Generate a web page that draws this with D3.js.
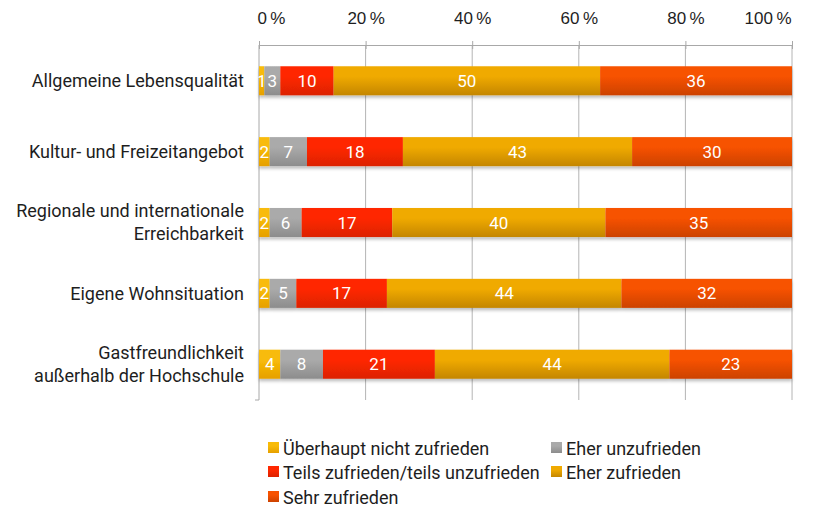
<!DOCTYPE html>
<html>
<head>
<meta charset="utf-8">
<script src="https://cdn.jsdelivr.net/npm/d3@7"></script>
<style>
  html, body { margin: 0; padding: 0; background: #fff; }
  svg { display: block; font-family: Roboto, "Noto Sans", sans-serif; }
</style>
</head>
<body>
<svg id="chart" width="815" height="510"></svg>
<script>
// Satisfaction ratings per aspect (percent of respondents)
const categories = [
  ["Allgemeine Lebensqualität"],
  ["Kultur- und Freizeitangebot"],
  ["Regionale und internationale", "Erreichbarkeit"],
  ["Eigene Wohnsituation"],
  ["Gastfreundlichkeit", "außerhalb der Hochschule"]
];
const seriesNames = [
  "Überhaupt nicht zufrieden",
  "Eher unzufrieden",
  "Teils zufrieden/teils unzufrieden",
  "Eher zufrieden",
  "Sehr zufrieden"
];
const ueberhauptNicht = [1, 2, 2, 2, 4];
const eherUnzufrieden = [3, 7, 6, 5, 8];
const teilsTeils      = [10, 18, 17, 17, 21];
const eherZufrieden   = [50, 43, 40, 44, 44];
const sehrZufrieden   = [36, 30, 35, 32, 23];
const tickValues = [0, 20, 40, 60, 80, 100];

const seriesValues = [ueberhauptNicht, eherUnzufrieden, teilsTeils, eherZufrieden, sehrZufrieden];
// top / bottom colours of each series' vertical gradient
const colors = [
  ["#f8bb08", "#e6a000"],
  ["#aaaaaa", "#8c8c8c"],
  ["#ff2800", "#dc2200"],
  ["#f0aa00", "#c48600"],
  ["#f75200", "#cc4200"]
];

const svg = d3.select("#chart");
const margin = { left: 259, right: 23, top: 45, bottom: 110 };
const width = 815, height = 510;
const textColor = "#1e1e1e";

const x = d3.scaleLinear().domain([0, 100]).range([margin.left, width - margin.right]);
const y = d3.scaleBand().domain(d3.range(categories.length))
  .range([margin.top, height - margin.bottom]).paddingInner(0.59).paddingOuter(0.3);

const defs = svg.append("defs");
colors.forEach((c, i) => {
  const g = defs.append("linearGradient").attr("id", "grad" + i)
    .attr("x1", 0).attr("y1", 0).attr("x2", 0).attr("y2", 1);
  g.append("stop").attr("offset", "0%").attr("stop-color", c[0]);
  g.append("stop").attr("offset", "35%").attr("stop-color", c[0]);
  g.append("stop").attr("offset", "100%").attr("stop-color", c[1]);
});
const shadow = defs.append("filter").attr("id", "shadow")
  .attr("x", "-5%").attr("y", "-20%").attr("width", "110%").attr("height", "160%");
shadow.append("feDropShadow").attr("dx", 0).attr("dy", 2.5).attr("stdDeviation", 1.8)
  .attr("flood-color", "#000").attr("flood-opacity", 0.25);

// vertical grid lines
const plotBottom = height - margin.bottom;
svg.append("g").selectAll("line").data(tickValues.slice(1)).join("line")
  .attr("x1", d => x(d)).attr("x2", d => x(d))
  .attr("y1", margin.top).attr("y2", plotBottom)
  .attr("stroke", "#b4b4b4").attr("stroke-width", 1);

// top axis; the outermost labels are kept inside the plot width
const axis = d3.axisTop(x).tickValues(tickValues).tickFormat(d => d + "\u2009%")
  .tickSizeInner(4).tickSizeOuter(0);
const axisG = svg.append("g").attr("transform", `translate(0,${margin.top})`).call(axis);
axisG.select(".domain").attr("stroke", "#a8a8a8");
axisG.selectAll(".tick line").attr("stroke", "#a8a8a8").attr("y2", 4).attr("y1", -4);
axisG.selectAll(".tick text").attr("y", -27).attr("font-size", 17)
  .attr("fill", textColor).attr("dy", "0.35em")
  .attr("text-anchor", d => d === 0 ? "start" : d === 100 ? "end" : "middle")
  .attr("x", d => d === 0 ? -2 : d === 100 ? -1 : 0);

// left axis line with bottom tick
svg.append("line").attr("x1", x(0)).attr("x2", x(0))
  .attr("y1", margin.top).attr("y2", plotBottom).attr("stroke", "#a8a8a8");
svg.append("line").attr("x1", x(0) - 4).attr("x2", x(0))
  .attr("y1", plotBottom).attr("y2", plotBottom).attr("stroke", "#a8a8a8");

// stacked bars
const stacks = categories.map((c, ci) => {
  let acc = 0;
  return seriesValues.map((vals, si) => {
    const v = vals[ci];
    const seg = { ci, si, v, x0: acc, x1: acc + v };
    acc += v;
    return seg;
  });
});

const rows = svg.append("g").selectAll("g").data(stacks).join("g")
  .attr("filter", "url(#shadow)");
rows.selectAll("rect").data(d => d).join("rect")
  .attr("x", d => x(d.x0)).attr("width", d => x(d.x1) - x(d.x0))
  .attr("y", d => y(d.ci)).attr("height", y.bandwidth())
  .attr("fill", d => `url(#grad${d.si})`);

svg.append("g").selectAll("text").data(stacks.flat()).join("text")
  .attr("x", d => (x(d.x0) + x(d.x1)) / 2)
  .attr("y", d => y(d.ci) + y.bandwidth() / 2)
  .attr("dy", "0.36em").attr("text-anchor", "middle")
  .attr("fill", "#fff").attr("font-size", 17)
  .text(d => d.v);

// category labels
const catG = svg.append("g").selectAll("text").data(categories).join("text")
  .attr("text-anchor", "end").attr("font-size", 18).attr("fill", textColor)
  .attr("transform", (d, i) => `translate(${x(0) - 15},${y(i) + y.bandwidth() / 2})`);
catG.selectAll("tspan").data(d => d.map((t, k) => ({ t, k, n: d.length }))).join("tspan")
  .attr("x", 0)
  .attr("y", d => (d.k - (d.n - 1) / 2) * 23)
  .attr("dy", "0.35em")
  .text(d => d.t);

// legend
const legendPos = [[268, 451], [551, 451], [268, 475], [551, 475], [268, 500]];
const legend = svg.append("g").selectAll("g").data(seriesNames).join("g")
  .attr("transform", (d, i) => `translate(${legendPos[i][0]},${legendPos[i][1]})`);
legend.append("rect").attr("x", 0).attr("y", -9).attr("width", 11).attr("height", 11)
  .attr("fill", (d, i) => `url(#grad${i})`);
legend.append("text").attr("x", 15).attr("y", -2).attr("dy", "0.36em")
  .attr("font-size", 18).attr("fill", textColor).text(d => d);
</script>
</body>
</html>
